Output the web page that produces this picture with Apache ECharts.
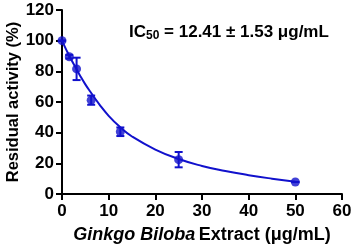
<!DOCTYPE html>
<html><head><meta charset="utf-8">
<script src="https://cdn.jsdelivr.net/npm/echarts@6/dist/echarts.min.js"></script>
<style>html,body{margin:0;padding:0;background:#fff}#c{width:353px;height:250px}</style>
</head><body><div id="c"></div>
<script>
// Measured data (concentration, residual activity, SD)
const concentrations = [0, 1.5625, 3.125, 6.25, 12.5, 25, 50];
const activity = [100, 89.5, 81.6, 61.2, 40.6, 22.4, 7.8];
const errors = [0, 1.2, 7.3, 3.0, 2.8, 5.0, 0];
// Fitted curve
const curveX = [0, 1, 2, 3, 4, 5, 6, 8, 10, 12.5, 15, 20, 25, 30, 35, 40, 45, 50];
const curveY = [100, 93.5, 87.5, 82, 76.5, 71.5, 67, 58.5, 51, 43.5, 37.5, 29, 22.8, 18.3, 15, 12.3, 10, 8];
const xTicks = [0, 10, 20, 30, 40, 50, 60];
const yTicks = [0, 20, 40, 60, 80, 100, 120];

const blue = '#1111CC';
const font = '"Liberation Sans", Arial, sans-serif';
const chart = echarts.init(document.getElementById('c'), null, {renderer: 'canvas'});

const points = concentrations.map((x, i) => [x, activity[i]]);
const errData = concentrations.map((x, i) => [x, activity[i] - errors[i], activity[i] + errors[i]]);
const curve = curveX.map((x, i) => [x, curveY[i]]);

chart.setOption({
  animation: false,
  grid: {left: 62, right: 11, top: 10, bottom: 56, containLabel: false, outerBoundsMode: 'none'},
  xAxis: {
    type: 'value', min: xTicks[0], max: xTicks[xTicks.length - 1], interval: 10,
    axisLine: {lineStyle: {color: '#000', width: 2}},
    axisTick: {length: 6, lineStyle: {color: '#000', width: 2}},
    splitLine: {show: false},
    axisLabel: {color: '#000', fontWeight: 'bold', fontSize: 17, fontFamily: font, margin: 9},
    name: '{i|Ginkgo Biloba} {n|Extract (μg/mL)}',
    nameLocation: 'middle', nameGap: 32,
    nameTextStyle: {rich: {
      i: {fontStyle: 'italic', fontWeight: 'bold', fontSize: 18, fontFamily: font, color: '#000'},
      n: {fontWeight: 'bold', fontSize: 18, fontFamily: font, color: '#000'}
    }}
  },
  yAxis: {
    type: 'value', min: yTicks[0], max: yTicks[yTicks.length - 1], interval: 20,
    axisLine: {show: true, lineStyle: {color: '#000', width: 2}},
    axisTick: {show: true, length: 6, lineStyle: {color: '#000', width: 2}},
    splitLine: {show: false},
    axisLabel: {color: '#000', fontWeight: 'bold', fontSize: 17, fontFamily: font, margin: 8},
    name: 'Residual activity (%)', nameLocation: 'middle', nameGap: 40, nameMoveOverlap: false,
    nameTextStyle: {color: '#000', fontWeight: 'bold', fontSize: 16.5, fontFamily: font}
  },
  graphic: [{
    type: 'text', left: 129, top: 24,
    style: {
      text: '{a|IC}{s|50}{a| = 12.41 ± 1.53 μg/mL}',
      rich: {
        a: {fontWeight: 'bold', fontSize: 17, fontFamily: font, fill: '#000'},
        s: {fontWeight: 'bold', fontSize: 12, fontFamily: font, fill: '#000', verticalAlign: 'bottom', padding: [7, 0, 0, 0]}
      }
    }
  }],
  series: [
    {type: 'line', data: curve, smooth: true, showSymbol: false, lineStyle: {color: blue, width: 2}, z: 2},
    {
      type: 'custom', data: errData, z: 3,
      renderItem: function (params, api) {
        const x = api.coord([api.value(0), 0])[0];
        const lo = api.coord([api.value(0), api.value(1)])[1];
        const hi = api.coord([api.value(0), api.value(2)])[1];
        const w = 4;
        const st = {stroke: blue, lineWidth: 2};
        return {type: 'group', children: [
          {type: 'line', shape: {x1: x, y1: lo, x2: x, y2: hi}, style: st},
          {type: 'line', shape: {x1: x - w, y1: lo, x2: x + w, y2: lo}, style: st},
          {type: 'line', shape: {x1: x - w, y1: hi, x2: x + w, y2: hi}, style: st}
        ]};
      }
    },
    {type: 'scatter', data: points, symbol: 'circle', symbolSize: 9, itemStyle: {color: blue}, z: 4}
  ]
});
</script></body></html>
